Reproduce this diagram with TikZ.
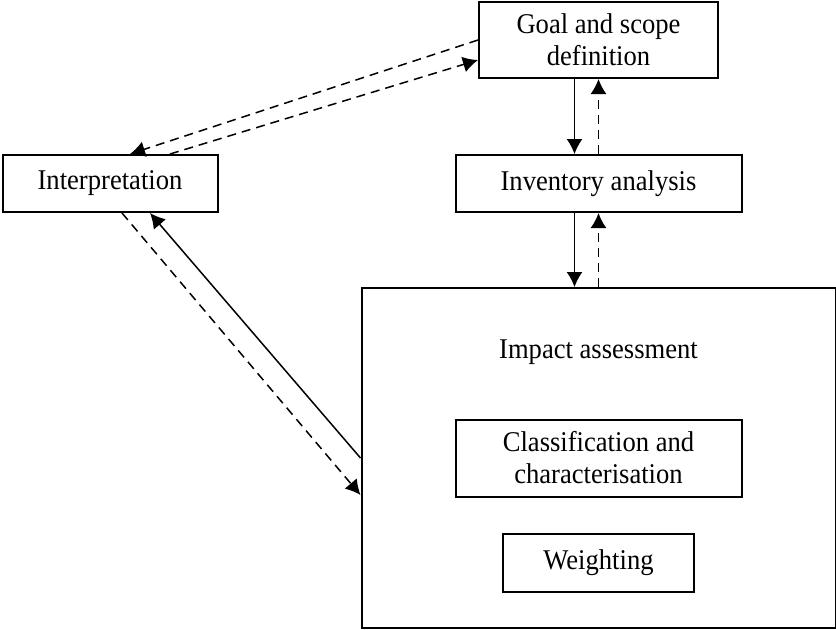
\documentclass[tikz,border=0pt]{standalone}
\usepackage{fontspec}
\setmainfont{Liberation Serif}[FakeStretch=0.93]
\usepackage{tikz}
\usetikzlibrary{arrows.meta,calc,positioning}

\begin{document}
\begin{tikzpicture}[
    on grid,
    font = \fontsize{14.3pt}{16pt}\selectfont
  ]

  \useasboundingbox (0,0) rectangle (418pt,-314.5pt);

  \tikzstyle {box} = [draw, line width = 1pt, align = center, inner sep = 2pt]
  \tikzstyle {every path} = [line width = 0.75pt, -{Latex[length=7.5pt,width=8pt]}]
  \tikzstyle {dsh} = [dash pattern = on 4.5pt off 3pt]

  \node [box, minimum width = 119.5pt, minimum height = 38pt] (goal) at (299.25pt,-20pt) {Goal and scope\\definition};
  \node [box, minimum width = 143pt, minimum height = 28.5pt, below = 71.75pt of goal] (inv) {Inventory analysis};
  \node [box, minimum width = 107.5pt, minimum height = 28.5pt, left = 244.25pt of inv] (interp) {Interpretation};
  \node [box, minimum width = 237pt, minimum height = 170pt, below = 137.25pt of inv] (impact) {};
  \node [above = 53pt of impact] (title) {Impact assessment};
  \node [box, minimum width = 143pt, minimum height = 38.5pt] (class) at (impact) {Classification and\\characterisation};
  \node [box, minimum width = 95.5pt, minimum height = 29pt, below = 52.25pt of class] (weight) {Weighting};

  % main column
  \draw ([xshift=-12pt]goal.south) -- ([xshift=-12pt]inv.north);
  \draw [dsh] (inv.north) -- (goal.south);
  \draw ([xshift=-12pt]inv.south) -- ([xshift=-12pt]impact.north);
  \draw [dsh] (impact.north) -- (inv.south);

  % back to interpretation
  \draw [dsh] (goal.west) -- ([xshift=10pt]interp.north);
  \draw [dsh] ([xshift=30pt]interp.north) -- ([yshift=-10pt]goal.west);
  \draw [dsh] ([xshift=6pt]interp.south) -- ([yshift=-18.5pt]impact.west);
  \draw (impact.west) -- ([xshift=20pt]interp.south);
\end{tikzpicture}
\end{document}
